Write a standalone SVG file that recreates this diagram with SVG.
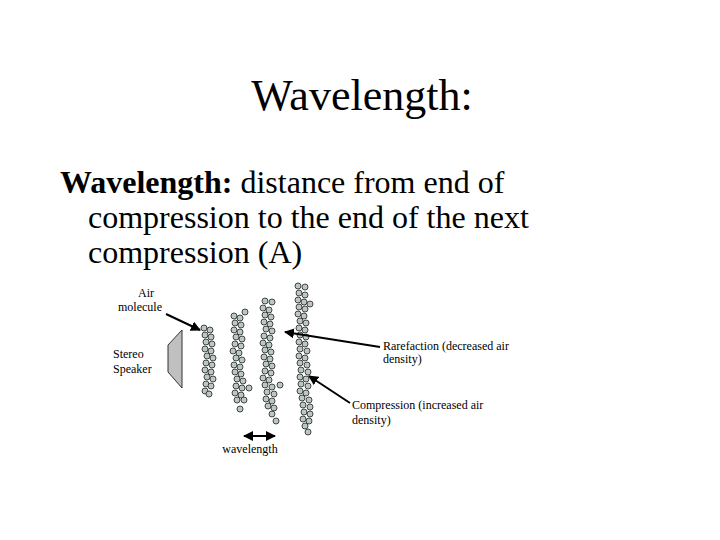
<svg xmlns="http://www.w3.org/2000/svg" xmlns:xlink="http://www.w3.org/1999/xlink" width="720" height="540" viewBox="0 0 720 540">
<style>
.t{font-family:"Liberation Serif","Times New Roman",serif;fill:#000}
.s{font-size:12px}
.m{fill:#b9c9c1;stroke:#333;stroke-width:0.9}
.a{stroke:#000;stroke-width:2;fill:none}
</style>
<defs>
<circle id="c" r="3" class="m"/>
<marker id="ah" viewBox="0 0 10 10" refX="9" refY="5" markerWidth="5" markerHeight="5" orient="auto-start-reverse"><path d="M0,0 L10,5 L0,10 z" fill="#000"/></marker>
</defs>
<rect width="720" height="540" fill="#fff"/>
<text class="t" x="362" y="110" font-size="44" text-anchor="middle">Wavelength:</text>
<text class="t" x="60" y="193" font-size="32"><tspan font-weight="bold">Wavelength:</tspan> distance from end of</text>
<text class="t" x="88" y="228" font-size="32">compression to the end of the next</text>
<text class="t" x="88" y="263" font-size="32">compression (A)</text>
<g id="speaker"><polygon points="182,330 182,388 168,372 168,345" fill="#c0c0c0" stroke="#333" stroke-width="1"/>
<text class="t s" x="113" y="358">Stereo</text><text class="t s" x="113" y="373">Speaker</text></g>
<g id="molecules">
<use href="#c" x="204" y="328"/><use href="#c" x="210" y="330"/><use href="#c" x="205" y="335"/><use href="#c" x="211" y="337"/><use href="#c" x="206" y="342"/><use href="#c" x="212" y="344"/><use href="#c" x="205" y="349"/><use href="#c" x="211" y="351"/><use href="#c" x="207" y="356"/><use href="#c" x="213" y="358"/><use href="#c" x="206" y="363"/><use href="#c" x="212" y="365"/><use href="#c" x="205" y="370"/><use href="#c" x="211" y="372"/><use href="#c" x="207" y="377"/><use href="#c" x="213" y="379"/><use href="#c" x="206" y="384"/><use href="#c" x="211" y="386"/><use href="#c" x="205" y="391"/><use href="#c" x="209" y="394"/>
<use href="#c" x="245" y="312"/><use href="#c" x="234" y="316"/><use href="#c" x="240" y="318"/><use href="#c" x="235" y="323"/><use href="#c" x="241" y="325"/><use href="#c" x="234" y="330"/><use href="#c" x="240" y="332"/><use href="#c" x="236" y="337"/><use href="#c" x="242" y="339"/><use href="#c" x="235" y="344"/><use href="#c" x="241" y="346"/><use href="#c" x="233" y="351"/><use href="#c" x="239" y="353"/><use href="#c" x="236" y="358"/><use href="#c" x="242" y="360"/><use href="#c" x="234" y="365"/><use href="#c" x="240" y="367"/><use href="#c" x="235" y="372"/><use href="#c" x="241" y="374"/><use href="#c" x="237" y="379"/><use href="#c" x="243" y="381"/><use href="#c" x="236" y="386"/><use href="#c" x="242" y="388"/><use href="#c" x="249" y="388"/><use href="#c" x="235" y="393"/><use href="#c" x="241" y="395"/><use href="#c" x="237" y="400"/><use href="#c" x="244" y="400"/><use href="#c" x="240" y="409"/>
<use href="#c" x="265" y="301"/><use href="#c" x="272" y="302"/><use href="#c" x="263" y="308"/><use href="#c" x="269" y="310"/><use href="#c" x="265" y="315"/><use href="#c" x="271" y="317"/><use href="#c" x="264" y="322"/><use href="#c" x="270" y="324"/><use href="#c" x="266" y="329"/><use href="#c" x="272" y="331"/><use href="#c" x="264" y="336"/><use href="#c" x="270" y="338"/><use href="#c" x="263" y="343"/><use href="#c" x="269" y="345"/><use href="#c" x="265" y="350"/><use href="#c" x="271" y="352"/><use href="#c" x="264" y="357"/><use href="#c" x="270" y="359"/><use href="#c" x="266" y="364"/><use href="#c" x="272" y="366"/><use href="#c" x="265" y="371"/><use href="#c" x="271" y="373"/><use href="#c" x="263" y="378"/><use href="#c" x="269" y="380"/><use href="#c" x="265" y="385"/><use href="#c" x="272" y="387"/><use href="#c" x="280" y="385"/><use href="#c" x="267" y="392"/><use href="#c" x="274" y="394"/><use href="#c" x="266" y="399"/><use href="#c" x="272" y="401"/><use href="#c" x="268" y="406"/><use href="#c" x="274" y="408"/><use href="#c" x="272" y="414"/><use href="#c" x="276" y="421"/>
<use href="#c" x="298" y="286"/><use href="#c" x="305" y="287"/><use href="#c" x="299" y="293"/><use href="#c" x="305" y="295"/><use href="#c" x="298" y="300"/><use href="#c" x="304" y="302"/><use href="#c" x="310" y="304"/><use href="#c" x="299" y="307"/><use href="#c" x="305" y="309"/><use href="#c" x="298" y="314"/><use href="#c" x="304" y="316"/><use href="#c" x="300" y="321"/><use href="#c" x="306" y="323"/><use href="#c" x="299" y="328"/><use href="#c" x="305" y="330"/><use href="#c" x="300" y="335"/><use href="#c" x="306" y="337"/><use href="#c" x="299" y="342"/><use href="#c" x="305" y="344"/><use href="#c" x="300" y="349"/><use href="#c" x="307" y="351"/><use href="#c" x="299" y="356"/><use href="#c" x="305" y="358"/><use href="#c" x="300" y="363"/><use href="#c" x="307" y="365"/><use href="#c" x="301" y="370"/><use href="#c" x="308" y="372"/><use href="#c" x="300" y="377"/><use href="#c" x="306" y="379"/><use href="#c" x="301" y="384"/><use href="#c" x="308" y="386"/><use href="#c" x="300" y="391"/><use href="#c" x="306" y="393"/><use href="#c" x="302" y="398"/><use href="#c" x="309" y="400"/><use href="#c" x="303" y="405"/><use href="#c" x="310" y="407"/><use href="#c" x="304" y="412"/><use href="#c" x="310" y="414"/><use href="#c" x="303" y="419"/><use href="#c" x="309" y="421"/><use href="#c" x="305" y="426"/><use href="#c" x="308" y="432"/>
</g>
<g id="connectors">
<line class="a" x1="166" y1="314" x2="200" y2="330" marker-end="url(#ah)"/>
<line class="a" x1="380" y1="347" x2="285" y2="332" marker-end="url(#ah)"/>
<line class="a" x1="350" y1="403" x2="309" y2="376" marker-end="url(#ah)"/>
<line class="a" x1="244" y1="436" x2="275" y2="436" marker-start="url(#ah)" marker-end="url(#ah)"/>
</g>
<g id="labels">
<text class="t s" x="146" y="297" text-anchor="middle">Air</text>
<text class="t s" x="140" y="311" text-anchor="middle">molecule</text>
<text class="t s" x="383" y="350">Rarefaction (decreased air</text>
<text class="t s" x="383" y="363">density)</text>
<text class="t s" x="352" y="409">Compression (increased air</text>
<text class="t s" x="352" y="424">density)</text>
<text class="t s" x="250" y="453" text-anchor="middle">wavelength</text>
</g>
</svg>
